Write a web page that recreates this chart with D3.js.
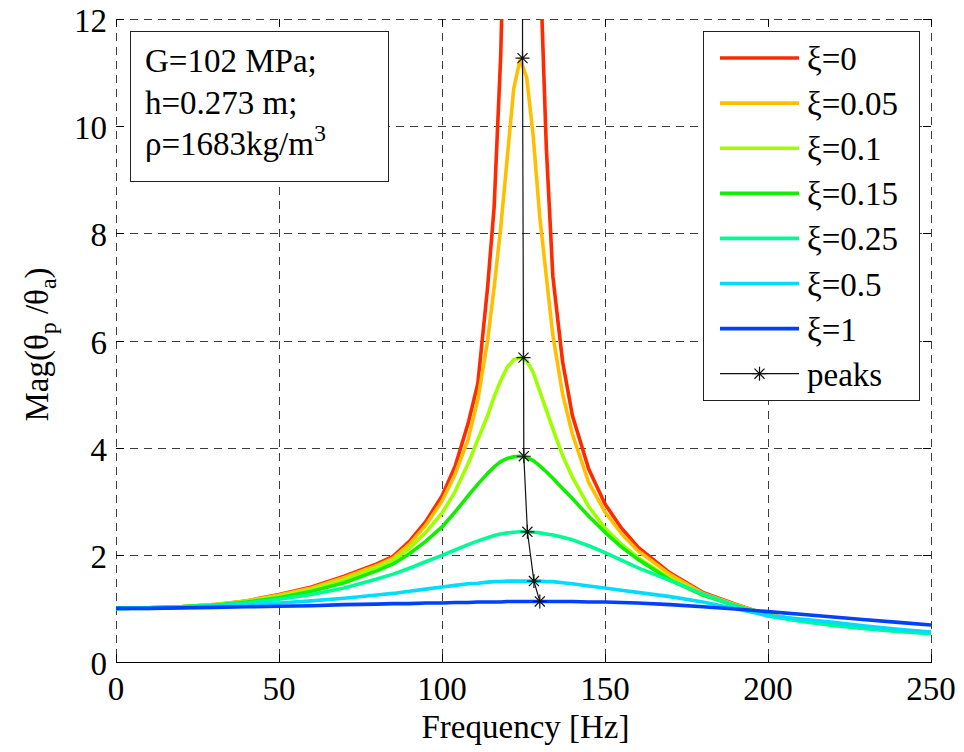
<!DOCTYPE html>
<html>
<head>
<meta charset="utf-8">
<script src="https://cdn.jsdelivr.net/npm/d3@7"></script>
<style>
    body { margin: 0; background: #fff; }
    svg { display: block; }
    svg text { font-family: "Times New Roman", "Liberation Serif", "DejaVu Serif", serif; }
</style>
</head>
<body>
<div id="chart"></div>
<script>
// frequency grid shared by all curves [Hz]
const freqs = [0, 10, 20, 30, 40, 50, 60, 70, 80, 85, 90, 95, 100, 104, 108, 111, 114, 116, 118, 120,
    122, 124, 126, 128, 130, 132, 134, 137, 140, 145, 150, 155, 160, 170, 180, 190, 200, 210, 220, 230, 240, 250];

const magXi0 = [1.00, 1.01, 1.03, 1.07, 1.14, 1.26, 1.40, 1.60, 1.83, 1.97, 2.25, 2.62, 3.10, 3.65, 4.45, 5.2, 7.0, 8.5, 11.3, 16,
    30, 200, 40, 20, 13.2, 9.6, 7.2, 5.6, 4.6, 3.6, 2.95, 2.5, 2.15, 1.66, 1.30, 1.08, 0.88, 0.78, 0.70, 0.64, 0.59, 0.55];
const magXi005 = [1.00, 1.01, 1.03, 1.07, 1.14, 1.25, 1.38, 1.58, 1.80, 1.94, 2.20, 2.55, 3.00, 3.50, 4.15, 4.9, 6.0, 7.0, 8.1, 9.4,
    10.7, 11.25, 10.9, 9.8, 8.3, 7.2, 6.1, 5.0, 4.25, 3.35, 2.8, 2.4, 2.08, 1.63, 1.28, 1.07, 0.88, 0.78, 0.70, 0.64, 0.59, 0.55];
const magXi01 = [1.00, 1.01, 1.03, 1.07, 1.13, 1.22, 1.35, 1.53, 1.76, 1.90, 2.12, 2.42, 2.78, 3.18, 3.7, 4.15, 4.6, 4.95, 5.25, 5.5,
    5.64, 5.68, 5.62, 5.4, 5.05, 4.7, 4.35, 3.85, 3.45, 2.9, 2.5, 2.2, 1.95, 1.56, 1.26, 1.06, 0.88, 0.77, 0.70, 0.63, 0.58, 0.54];
const magXi015 = [1.00, 1.01, 1.03, 1.06, 1.12, 1.20, 1.32, 1.48, 1.70, 1.83, 2.02, 2.25, 2.52, 2.80, 3.1, 3.32, 3.52, 3.64, 3.74, 3.80,
    3.83, 3.84, 3.82, 3.76, 3.66, 3.55, 3.43, 3.24, 3.05, 2.72, 2.42, 2.15, 1.92, 1.53, 1.25, 1.05, 0.87, 0.77, 0.69, 0.63, 0.58, 0.54];
const magXi025 = [1.00, 1.01, 1.03, 1.06, 1.10, 1.17, 1.26, 1.38, 1.55, 1.64, 1.75, 1.87, 1.99, 2.09, 2.19, 2.26, 2.32, 2.36, 2.39, 2.41,
    2.42, 2.43, 2.43, 2.42, 2.41, 2.39, 2.37, 2.33, 2.28, 2.17, 2.04, 1.90, 1.76, 1.52, 1.27, 1.05, 0.86, 0.76, 0.68, 0.62, 0.57, 0.53];
const magXi05 = [1.00, 1.00, 1.02, 1.04, 1.07, 1.10, 1.14, 1.19, 1.25, 1.28, 1.32, 1.36, 1.40, 1.43, 1.46, 1.47, 1.49, 1.50, 1.50, 1.51,
    1.51, 1.51, 1.51, 1.51, 1.51, 1.50, 1.50, 1.48, 1.46, 1.42, 1.38, 1.34, 1.30, 1.22, 1.12, 1.00, 0.86, 0.80, 0.74, 0.67, 0.61, 0.56];
const magXi1 = [1.00, 1.00, 1.01, 1.02, 1.03, 1.04, 1.05, 1.07, 1.08, 1.09, 1.09, 1.10, 1.10, 1.11, 1.11, 1.12, 1.12, 1.12, 1.12, 1.13,
    1.13, 1.13, 1.13, 1.13, 1.13, 1.13, 1.13, 1.13, 1.13, 1.12, 1.12, 1.11, 1.10, 1.07, 1.03, 0.99, 0.94, 0.89, 0.84, 0.79, 0.74, 0.69];

const seriesLabels = ["ξ=0", "ξ=0.05", "ξ=0.1", "ξ=0.15", "ξ=0.25", "ξ=0.5", "ξ=1"];
const seriesColors = ["#ff2a00", "#ffbf00", "#9dff00", "#12ee00", "#00fa96", "#00dcff", "#0040ff"];
const seriesValues = [magXi0, magXi005, magXi01, magXi015, magXi025, magXi05, magXi1];

// resonance peak of each curve (first one is unbounded, off the chart)
const peakFreqs = [124.7, 124.7, 125.0, 125.1, 126.2, 128.2, 130.0];
const peakMags = [60, 11.27, 5.68, 3.84, 2.43, 1.51, 1.13];

const xTicks = [0, 50, 100, 150, 200, 250];
const yTicks = [0, 2, 4, 6, 8, 10, 12];
const infoLines = ["G=102 MPa;", "h=0.273 m;", "ρ=1683kg/m"];

const width = 964, height = 752;
const plot = { left: 116, right: 931, top: 19, bottom: 662 };

drawChart();

function drawChart() {
    const svg = d3.select("#chart").append("svg")
        .attr("width", width)
        .attr("height", height);

    const x = d3.scaleLinear().domain([0, 250]).range([plot.left, plot.right]);
    const y = d3.scaleLinear().domain([0, 12]).range([plot.bottom, plot.top]);

    svg.append("defs").append("clipPath")
        .attr("id", "plot-clip")
        .append("rect")
        .attr("x", plot.left)
        .attr("y", plot.top)
        .attr("width", plot.right - plot.left)
        .attr("height", plot.bottom - plot.top);

    drawGrid(svg, x, y);
    drawCurves(svg, x, y);
    drawPeaks(svg, x, y);
    drawAxes(svg, x, y);
    drawInfoBox(svg);
    drawLegend(svg);
}

function drawGrid(svg, x, y) {
    const grid = svg.append("g").attr("class", "grid")
        .attr("stroke", "#3c3c3c")
        .attr("stroke-width", 1)
        .attr("stroke-dasharray", "8,6");

    grid.selectAll(".vgrid")
        .data(xTicks)
        .enter().append("line")
        .attr("x1", d => Math.round(x(d)) + 0.5)
        .attr("x2", d => Math.round(x(d)) + 0.5)
        .attr("y1", plot.top)
        .attr("y2", plot.bottom);

    grid.selectAll(".hgrid")
        .data(yTicks.filter(d => d > 0))
        .enter().append("line")
        .attr("x1", plot.left)
        .attr("x2", plot.right)
        .attr("y1", d => Math.round(y(d)) + 0.5)
        .attr("y2", d => Math.round(y(d)) + 0.5);
}

function drawCurves(svg, x, y) {
    const line = d3.line()
        .x((d, i) => x(freqs[i]))
        .y(d => y(d));

    svg.append("g")
        .attr("clip-path", "url(#plot-clip)")
        .selectAll("path")
        .data(seriesValues)
        .enter().append("path")
        .attr("d", d => line(d))
        .attr("fill", "none")
        .attr("stroke", (d, i) => seriesColors[i])
        .attr("stroke-width", 3.6)
        .attr("stroke-linejoin", "round");
}

function asterisk(g, size) {
    const r = size / 2, q = r * 0.72;
    const path = `M${-r},0L${r},0M0,${-r}L0,${r}M${-q},${-q}L${q},${q}M${-q},${q}L${q},${-q}`;
    g.append("path")
        .attr("d", path)
        .attr("stroke", "#111")
        .attr("stroke-width", 1.2)
        .attr("fill", "none");
}

function drawPeaks(svg, x, y) {
    const g = svg.append("g").attr("clip-path", "url(#plot-clip)");

    const line = d3.line()
        .x((d, i) => x(peakFreqs[i]))
        .y(d => y(d));

    g.append("path")
        .attr("d", line(peakMags))
        .attr("fill", "none")
        .attr("stroke", "#111")
        .attr("stroke-width", 1.2);

    g.selectAll(".peak")
        .data(peakMags)
        .enter().append("g")
        .attr("class", "peak")
        .attr("transform", (d, i) => `translate(${x(peakFreqs[i])},${y(d)})`)
        .each(function () { asterisk(d3.select(this), 14); });
}

function drawAxes(svg, x, y) {
    const axes = svg.append("g").attr("stroke", "#000").attr("stroke-width", 1);

    // bottom axis line
    axes.append("line")
        .attr("x1", plot.left).attr("x2", plot.right + 1)
        .attr("y1", plot.bottom + 0.5).attr("y2", plot.bottom + 0.5);

    // inward tick marks on all four sides
    xTicks.forEach(t => {
        const px = Math.round(x(t)) + 0.5;
        axes.append("line").attr("x1", px).attr("x2", px).attr("y1", plot.bottom).attr("y2", plot.bottom - 8);
        axes.append("line").attr("x1", px).attr("x2", px).attr("y1", plot.top).attr("y2", plot.top + 8);
    });
    yTicks.forEach(t => {
        const py = Math.round(y(t)) + 0.5;
        axes.append("line").attr("x1", plot.left).attr("x2", plot.left + 8).attr("y1", py).attr("y2", py);
        axes.append("line").attr("x1", plot.right).attr("x2", plot.right - 8).attr("y1", py).attr("y2", py);
    });

    const labels = svg.append("g")
        .attr("font-size", 33)
        .attr("fill", "#000");

    labels.selectAll(".xtick")
        .data(xTicks)
        .enter().append("text")
        .attr("x", d => x(d))
        .attr("y", plot.bottom + 38)
        .attr("text-anchor", "middle")
        .text(d => d);

    labels.selectAll(".ytick")
        .data(yTicks)
        .enter().append("text")
        .attr("x", plot.left - 9)
        .attr("y", d => y(d) + 13)
        .attr("text-anchor", "end")
        .text(d => d);

    labels.append("text")
        .attr("x", (plot.left + plot.right) / 2 + 2)
        .attr("y", 738)
        .attr("text-anchor", "middle")
        .text("Frequency [Hz]");

    const ylab = labels.append("text")
        .attr("transform", `translate(48, ${(plot.top + plot.bottom) / 2 + 4}) rotate(-90)`)
        .attr("text-anchor", "middle");
    ylab.append("tspan").text("Mag(θ");
    ylab.append("tspan").attr("dy", 8).attr("font-size", 24).text("p");
    ylab.append("tspan").attr("dy", -8).text(" /θ");
    ylab.append("tspan").attr("dy", 8).attr("font-size", 24).text("a");
    ylab.append("tspan").attr("dy", -8).text(")");
}

function drawInfoBox(svg) {
    const g = svg.append("g");
    g.append("rect")
        .attr("x", 130.5).attr("y", 31.5)
        .attr("width", 258).attr("height", 150)
        .attr("fill", "#fff")
        .attr("stroke", "#222")
        .attr("stroke-width", 1);

    const text = g.append("g").attr("font-size", 33);
    infoLines.forEach((s, i) => {
        const t = text.append("text")
            .attr("x", 145)
            .attr("y", 72 + i * 41.5)
            .text(s);
        if (i === 2) {
            t.append("tspan").attr("dy", -14).attr("font-size", 24).text("3");
        }
    });
}

function drawLegend(svg) {
    const g = svg.append("g");
    g.append("rect")
        .attr("x", 703.5).attr("y", 31.5)
        .attr("width", 216).attr("height", 369)
        .attr("fill", "#fff")
        .attr("stroke", "#222")
        .attr("stroke-width", 1);

    const rowY = i => 58 + i * 45.1;

    const rows = g.selectAll(".legend-row")
        .data(seriesLabels)
        .enter().append("g")
        .attr("class", "legend-row")
        .attr("transform", (d, i) => `translate(0, ${rowY(i)})`);

    rows.append("line")
        .attr("x1", 720).attr("x2", 799)
        .attr("stroke", (d, i) => seriesColors[i])
        .attr("stroke-width", 3.6);

    rows.append("text")
        .attr("x", 807)
        .attr("y", 12)
        .attr("font-size", 33)
        .text(d => d);

    const peaksRow = g.append("g").attr("transform", `translate(0, ${rowY(7)})`);
    peaksRow.append("line")
        .attr("x1", 720).attr("x2", 799)
        .attr("stroke", "#111")
        .attr("stroke-width", 1.2);
    const mark = peaksRow.append("g").attr("transform", "translate(759.5, 0)");
    asterisk(mark, 14);
    peaksRow.append("text")
        .attr("x", 807)
        .attr("y", 12)
        .attr("font-size", 33)
        .text("peaks");
}
</script>
</body>
</html>
